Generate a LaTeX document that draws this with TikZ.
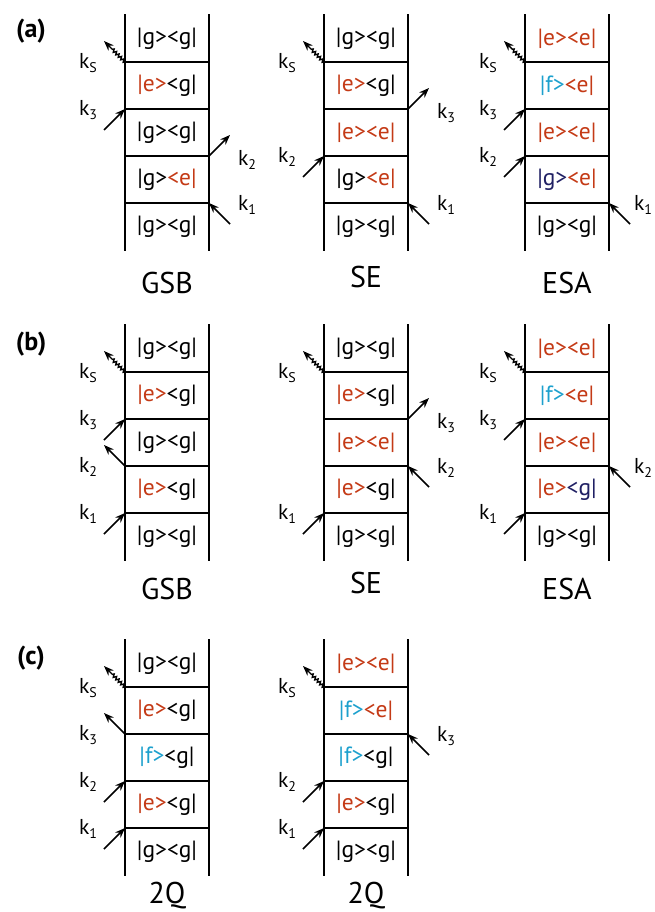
\documentclass[tikz,border=0pt]{standalone}
\usepackage{fontspec}
\setmainfont{PT Sans}
\usetikzlibrary{arrows.meta,decorations.pathmorphing,calc}
\definecolor{rdc}{RGB}{196,58,22}
\definecolor{cyc}{RGB}{28,160,205}
\definecolor{nvc}{RGB}{32,32,100}
\newcommand{\rdt}[1]{\textcolor{rdc}{#1}}
\newcommand{\cyt}[1]{\textcolor{cyc}{#1}}
\newcommand{\nvt}[1]{\textcolor{nvc}{#1}}
\newcommand{\kk}[1]{k\raisebox{-0.45ex}{\fontsize{14}{14}\selectfont #1}}
\tikzset{
  rail/.style={line width=1.9pt, line cap=rect},
  rung/.style={line width=1.7pt},
  st/.style={font=\fontsize{23.5}{23.5}\selectfont, inner sep=0pt},
  klab/.style={font=\fontsize{21.5}{21.5}\selectfont, inner sep=0pt},
  ttl/.style={font=\fontsize{30}{30}\selectfont, inner sep=0pt},
  sec/.style={font=\fontsize{26}{26}\selectfont\bfseries, inner sep=0pt},
  arr/.style={line width=1.7pt, -{Stealth[length=10pt,width=7.5pt]}},
  wavy/.style={line width=1.4pt, -{Stealth[length=10pt,width=7.5pt]}, decorate,
    decoration={snake, segment length=3.5pt, amplitude=1.5pt, post length=11pt}}
}
% ladder: prefix, x left, y top, five texts top->bottom
\newcommand{\ladder}[8]{%
  \coordinate (#1L0) at (#2,#3);
  \coordinate (#1R0) at (#2+84,#3);
  \foreach \i in {1,...,5}{
    \coordinate (#1L\i) at (#2,#3+47*\i);
    \coordinate (#1R\i) at (#2+84,#3+47*\i);
  }
  \draw[rail] (#1L0) -- (#1L5);
  \draw[rail] (#1R0) -- (#1R5);
  \foreach \i in {1,...,4}{ \draw[rung] (#1L\i) -- (#1R\i); }
  \node[st] (#1s1) at (#2+42,#3+23.5) {#4};
  \node[st] (#1s2) at (#2+42,#3+70.5) {#5};
  \node[st] (#1s3) at (#2+42,#3+117.5) {#6};
  \node[st] (#1s4) at (#2+42,#3+164.5) {#7};
  \node[st] (#1s5) at (#2+42,#3+211.5) {#8};
}
\newcommand{\inL}[2]{%
  \coordinate (#1a) at ($(#1)+(-21,21)$);
  \draw[arr] (#1a) -- (#1);
  \node[klab] (#1k) at ($(#1)+(-37,1)$) {#2};}
\newcommand{\outL}[2]{%
  \coordinate (#1a) at ($(#1)+(-21,-21)$);
  \draw[arr] (#1) -- (#1a);
  \node[klab] (#1k) at ($(#1)+(-37,1)$) {#2};}
\newcommand{\inR}[3][38]{%
  \coordinate (#2a) at ($(#2)+(21,21)$);
  \draw[arr] (#2a) -- (#2);
  \node[klab] (#2k) at ($(#2)+(#1,2)$) {#3};}
\newcommand{\outR}[2]{%
  \coordinate (#1a) at ($(#1)+(21,-21)$);
  \draw[arr] (#1) -- (#1a);
  \node[klab] (#1k) at ($(#1)+(38,4)$) {#2};}
\newcommand{\sig}[1]{%
  \coordinate (#1a) at ($(#1)+(-21,-21)$);
  \draw[wavy] (#1) -- (#1a);
  \node[klab] (#1k) at ($(#1)+(-37,1)$) {\kk{S}};}
\begin{document}
\begin{tikzpicture}[x=1pt,y=-1pt]
\useasboundingbox (0,0) rectangle (654,912);
% ---------- (a)
\node[sec] (seca) at (31,31) {(a)};
\ladder{aA}{125}{15}{|g><g|}{\rdt{|e>}<g|}{|g><g|}{|g>\rdt{<e|}}{|g><g|}
\sig{aAL1} \inL{aAL2}{\kk{3}} \outR{aAR3}{\kk{2}} \inR{aAR4}{\kk{1}}
\node[ttl] (taA) at (167,283) {GSB};
\ladder{aB}{324}{15}{|g><g|}{\rdt{|e>}<g|}{\rdt{|e><e|}}{|g>\rdt{<e|}}{|g><g|}
\sig{aBL1} \outR{aBR2}{\kk{3}} \inL{aBL3}{\kk{2}} \inR{aBR4}{\kk{1}}
\node[ttl] (taB) at (366,277) {SE};
\ladder{aC}{525}{15}{\rdt{|e><e|}}{\cyt{|f>}\rdt{<e|}}{\rdt{|e><e|}}{\nvt{|g>}\rdt{<e|}}{|g><g|}
\sig{aCL1} \inL{aCL2}{\kk{3}} \inL{aCL3}{\kk{2}} \inR[34]{aCR4}{\kk{1}}
\node[ttl] (taC) at (567,283) {ESA};
% ---------- (b)
\node[sec] (secb) at (31,344) {(b)};
\ladder{bA}{125}{325}{|g><g|}{\rdt{|e>}<g|}{|g><g|}{\rdt{|e>}<g|}{|g><g|}
\sig{bAL1} \inL{bAL2}{\kk{3}} \outL{bAL3}{\kk{2}} \inL{bAL4}{\kk{1}}
\node[ttl] (tbA) at (167,589) {GSB};
\ladder{bB}{324}{325}{|g><g|}{\rdt{|e>}<g|}{\rdt{|e><e|}}{\rdt{|e>}<g|}{|g><g|}
\sig{bBL1} \outR{bBR2}{\kk{3}} \inR{bBR3}{\kk{2}} \inL{bBL4}{\kk{1}}
\node[ttl] (tbB) at (366,583) {SE};
\ladder{bC}{525}{325}{\rdt{|e><e|}}{\cyt{|f>}\rdt{<e|}}{\rdt{|e><e|}}{\rdt{|e>}\nvt{<g|}}{|g><g|}
\sig{bCL1} \inL{bCL2}{\kk{3}} \inR[34]{bCR3}{\kk{2}} \inL{bCL4}{\kk{1}}
\node[ttl] (tbC) at (567,589) {ESA};
% ---------- (c)
\node[sec] (secc) at (31,658) {(c)};
\ladder{cA}{125}{640}{|g><g|}{\rdt{|e>}<g|}{\cyt{|f>}<g|}{\rdt{|e>}<g|}{|g><g|}
\sig{cAL1} \outL{cAL2}{\kk{3}} \inL{cAL3}{\kk{2}} \inL{cAL4}{\kk{1}}
\node[ttl] (tcA) at (167,896) {2Q};
\ladder{cB}{324}{640}{\rdt{|e><e|}}{\cyt{|f>}\rdt{<e|}}{\cyt{|f>}<g|}{\rdt{|e>}<g|}{|g><g|}
\sig{cBL1} \inR{cBR2}{\kk{3}} \inL{cBL3}{\kk{2}} \inL{cBL4}{\kk{1}}
\node[ttl] (tcB) at (366,896) {2Q};
\end{tikzpicture}
\end{document}
